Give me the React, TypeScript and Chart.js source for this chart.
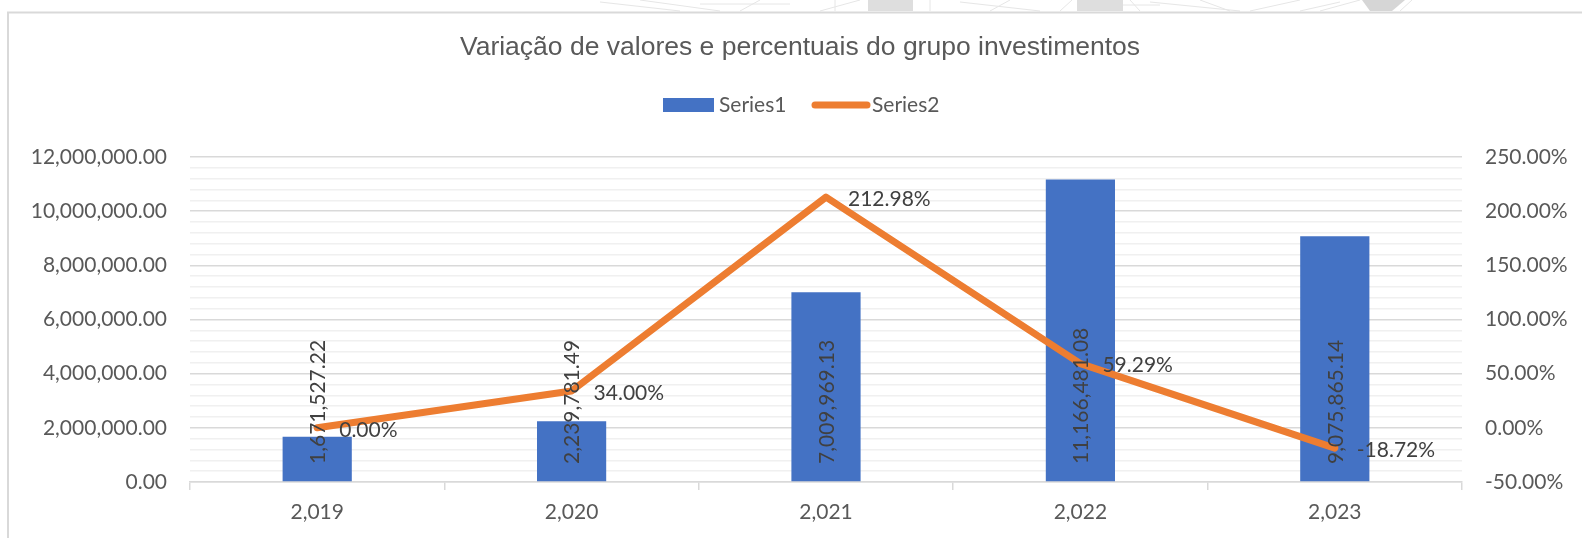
import React, { useEffect, useRef } from "react";
import { Chart, registerables } from "chart.js";

Chart.register(...registerables);

const categories = [2019, 2020, 2021, 2022, 2023];
const categoryLabels = ["2,019", "2,020", "2,021", "2,022", "2,023"];
const series1Values = [1671527.22, 2239781.49, 7009969.13, 11166481.08, 9075865.14];
const series2Values = [0.0, 34.0, 212.98, 59.29, -18.72];
const series1Name = "Series1";
const series2Name = "Series2";
const chartTitle = "Variação de valores e percentuais do grupo investimentos";

const FONT = "Lato, 'Noto Sans', sans-serif";
const TEXT = "#595959";
const LABEL = "#404040";
const BLUE = "#4472C4";
const ORANGE = "#ED7D31";

const fmtMoney = (v: number) =>
  v.toLocaleString("en-US", { minimumFractionDigits: 2, maximumFractionDigits: 2 });

const decorPlugin = {
  id: "decor",
  beforeDraw(chart: any) {
    const ctx = chart.ctx;
    ctx.save();
    ctx.fillStyle = "#ffffff";
    ctx.fillRect(0, 0, chart.width, chart.height);
    // faint background picture strip at the top
    ctx.strokeStyle = "#e6e6e6";
    ctx.lineWidth = 1;
    const segs = [
      [600, 2, 680, 11], [640, 0, 720, 11], [700, 4, 790, 4], [760, 0, 740, 11],
      [820, 11, 860, 0], [835, 0, 835, 11], [930, 0, 930, 11], [960, 2, 1040, 11],
      [990, 11, 1010, 0], [1060, 11, 1072, 0], [1130, 0, 1140, 11], [1150, 2, 1240, 11],
      [1200, 0, 1230, 11], [1250, 11, 1300, 0], [1300, 11, 1340, 2], [1320, 11, 1360, 0],
      [1090, 5, 1160, 5], [1400, 11, 1412, 0],
    ];
    segs.forEach(([a, b, c, d]) => {
      ctx.beginPath();
      ctx.moveTo(a, b);
      ctx.lineTo(c, d);
      ctx.stroke();
    });
    ctx.fillStyle = "#dedede";
    ctx.fillRect(868, 0, 45, 11);
    ctx.fillRect(1077, 0, 46, 11);
    ctx.fillStyle = "#d6d6d6";
    ctx.beginPath();
    ctx.moveTo(1362, 0);
    ctx.lineTo(1405, 0);
    ctx.lineTo(1392, 11);
    ctx.lineTo(1370, 11);
    ctx.closePath();
    ctx.fill();
    // chart border
    ctx.strokeStyle = "#d9d9d9";
    ctx.lineWidth = 2;
    ctx.beginPath();
    ctx.moveTo(8, chart.height + 2);
    ctx.lineTo(8, 12.5);
    ctx.lineTo(chart.width + 2, 12.5);
    ctx.stroke();
    ctx.restore();
  },
  afterDraw(chart: any) {
    const ctx = chart.ctx;
    ctx.save();
    // title
    ctx.fillStyle = TEXT;
    ctx.font = "26.5px 'Liberation Sans', Arial, sans-serif";
    ctx.textAlign = "center";
    ctx.textBaseline = "middle";
    ctx.fillText(chartTitle, 800, 48);
    // legend
    ctx.font = `21px ${FONT}`;
    ctx.textAlign = "left";
    ctx.fillStyle = BLUE;
    ctx.fillRect(663, 98, 51, 14);
    ctx.fillStyle = TEXT;
    ctx.fillText(series1Name, 719, 105);
    ctx.strokeStyle = ORANGE;
    ctx.lineWidth = 7;
    ctx.lineCap = "round";
    ctx.beginPath();
    ctx.moveTo(815, 105);
    ctx.lineTo(867, 105);
    ctx.stroke();
    ctx.fillStyle = TEXT;
    ctx.fillText(series2Name, 872, 105);
    ctx.restore();
  },
  afterDatasetsDraw(chart: any) {
    const ctx = chart.ctx;
    ctx.save();
    ctx.fillStyle = LABEL;
    ctx.font = `21px ${FONT}`;
    const barMeta = chart.getDatasetMeta(0);
    const yBase = chart.scales.y.getPixelForValue(0);
    barMeta.data.forEach((el: any, i: number) => {
      ctx.save();
      ctx.translate(el.x + 1, yBase - 18);
      ctx.rotate(-Math.PI / 2);
      ctx.textAlign = "left";
      ctx.textBaseline = "middle";
      ctx.fillText(fmtMoney(series1Values[i]), 0, 0);
      ctx.restore();
    });
    const lineMeta = chart.getDatasetMeta(1);
    lineMeta.data.forEach((el: any, i: number) => {
      ctx.textAlign = "left";
      ctx.textBaseline = "middle";
      ctx.fillText(series2Values[i].toFixed(2) + "%", el.x + 22, el.y + 2);
    });
    ctx.restore();
  },
};

export default function App() {
  const ref = useRef<HTMLCanvasElement | null>(null);

  useEffect(() => {
    if (!ref.current) return;
    const chart = new Chart(ref.current, {
      type: "bar",
      data: {
        labels: categories.map((c, i) => categoryLabels[i]),
        datasets: [
          {
            type: "bar",
            label: series1Name,
            data: series1Values,
            backgroundColor: BLUE,
            borderWidth: 0,
            barPercentage: 0.272,
            categoryPercentage: 1,
            yAxisID: "y",
            order: 2,
          },
          {
            type: "line",
            label: series2Name,
            data: series2Values,
            borderColor: ORANGE,
            backgroundColor: ORANGE,
            borderWidth: 7,
            borderCapStyle: "round",
            borderJoinStyle: "round",
            pointRadius: 0,
            tension: 0,
            yAxisID: "y1",
            order: 1,
          },
        ],
      } as any,
      options: {
        responsive: false,
        animation: false,
        events: [],
        layout: { padding: { top: 157, left: 0, right: 0, bottom: 0 } },
        plugins: {
          legend: { display: false },
          title: { display: false },
          tooltip: { enabled: false },
        },
        scales: {
          x: {
            offset: true,
            grid: {
              offset: true,
              drawOnChartArea: false,
              drawTicks: true,
              tickLength: 8,
              color: "#d9d9d9",
              lineWidth: 1.5,
            },
            border: { display: true, color: "#d9d9d9", width: 1.5 },
            ticks: { color: TEXT, font: { family: FONT, size: 21 }, padding: 10 },
            afterFit: (s: any) => {
              s.height = 56;
            },
          },
          y: {
            position: "left",
            min: 0,
            max: 12000000,
            ticks: {
              stepSize: 400000,
              autoSkip: false,
              color: TEXT,
              font: { family: FONT, size: 21 },
              padding: 23,
              callback: (v: any) => (Math.round(v) % 2000000 === 0 ? fmtMoney(Number(v)) : ""),
            },
            grid: {
              drawTicks: false,
              color: (c: any) =>
                c.tick && Math.round(c.tick.value) % 2000000 === 0 ? "#d9d9d9" : "#f0f0f0",
              lineWidth: 1.5,
            },
            border: { display: false },
            afterFit: (s: any) => {
              s.width = 190;
            },
          },
          y1: {
            position: "right",
            min: -50,
            max: 250,
            ticks: {
              stepSize: 50,
              color: TEXT,
              font: { family: FONT, size: 21 },
              padding: 23,
              callback: (v: any) => Number(v).toFixed(2) + "%",
            },
            grid: { drawOnChartArea: false, drawTicks: false },
            border: { display: false },
            afterFit: (s: any) => {
              s.width = 120;
            },
          },
        },
      } as any,
      plugins: [decorPlugin],
    });
    return () => chart.destroy();
  }, []);

  return (
    <div style={{ position: "absolute", left: 0, top: 0, width: 1582, height: 538 }}>
      <canvas ref={ref} width={1582} height={538} style={{ display: "block" }} />
    </div>
  );
}
